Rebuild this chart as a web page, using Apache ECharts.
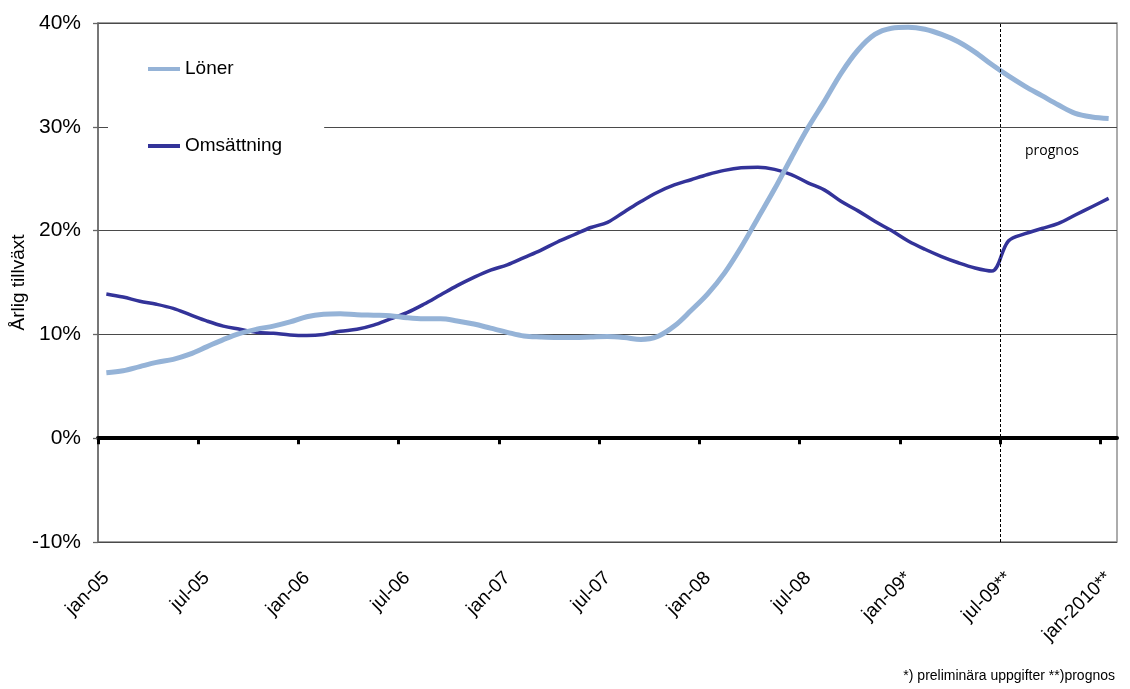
<!DOCTYPE html>
<html><head><meta charset="utf-8">
<script src="https://cdn.jsdelivr.net/npm/echarts@6/dist/echarts.min.js"></script>
<style>html,body{margin:0;padding:0;background:#fff}#c{width:1130px;height:689px}</style>
</head><body><div id="c"></div>
<script>
const monthNames = ['jan','feb','mar','apr','maj','jun','jul','aug','sep','okt','nov','dec'];
const yearNames = ['05','06','07','08','09'];
const tickLabels = ['jan-05','jul-05','jan-06','jul-06','jan-07','jul-07','jan-08','jul-08','jan-09*','jul-09**','jan-2010**'];
const yTicks = [-10, 0, 10, 20, 30, 40];

const loner = [
  6.3, 6.5, 6.9, 7.3, 7.6, 8.1, 8.8, 9.5, 10.1, 10.5, 10.8, 11.2,
  11.7, 11.95, 12.0, 11.9, 11.85, 11.8, 11.6, 11.5, 11.5, 11.3, 11.0, 10.6,
  10.2, 9.85, 9.75, 9.7, 9.7, 9.75, 9.8, 9.7, 9.5, 9.8, 10.8, 12.3,
  13.9, 15.9, 18.4, 21.2, 24.0, 27.0, 29.9, 32.5, 35.2, 37.4, 38.9, 39.5,
  39.6, 39.4, 38.9, 38.2, 37.2, 36.0, 34.9, 33.9, 33.0, 32.1, 31.3, 30.95,
  30.8
];
const omsattning = [
  13.9, 13.6, 13.2, 12.9, 12.5, 11.9, 11.3, 10.8, 10.5, 10.2, 10.1, 9.95,
  9.9, 10.0, 10.3, 10.5, 10.9, 11.5, 12.1, 12.9, 13.8, 14.7, 15.5, 16.2,
  16.7, 17.4, 18.1, 18.9, 19.6, 20.3, 20.8, 21.8, 22.8, 23.7, 24.4, 24.9,
  25.4, 25.8, 26.05, 26.1, 25.9, 25.4, 24.6, 23.9, 22.8, 21.9, 20.9, 20.0,
  19.0, 18.2, 17.5, 16.9, 16.4, 16.1, 19.0, 19.7, 20.2, 20.7, 21.5, 22.3,
  23.1
];
const prognosStart = 54; // boundary before jul-09

const categories = [];
yearNames.forEach(y => monthNames.forEach(m => categories.push(m + '-' + y)));
categories.push('jan-2010');
tickLabels.forEach((t, i) => { categories[i * 6] = t; });
const tickBoundaries = tickLabels.map((t, i) => i * 6);

const FONT = '"Liberation Sans", Arial, sans-serif';
const chart = echarts.init(document.getElementById('c'));
chart.setOption({
  animation: false,
  backgroundColor: '#fff',
  grid: { left: 98, right: 13, top: 23, bottom: 147, show: true, borderColor: '#808080', borderWidth: 1.3, containLabel: false, outerBoundsMode: 'none' },
  legend: {
    data: ['Löner', 'Omsättning'],
    orient: 'vertical',
    left: 108, top: 50,
    padding: [9, 42, 20, 40],
    itemGap: 57,
    itemWidth: 32, itemHeight: 14,
    backgroundColor: '#fff',
    textStyle: { fontSize: 19, fontFamily: FONT, color: '#000', lineHeight: 20 },
    icon: 'path://M0,0 L32,0 L32,4 L0,4 Z'
  },
  xAxis: [
    {
      type: 'category', data: categories, boundaryGap: true, position: 'bottom',
      axisLine: { show: false, onZero: false },
      axisTick: { show: false },
      axisLabel: { show: true, interval: 5, rotate: 45, margin: 33, fontSize: 19, fontFamily: FONT, color: '#000' },
      splitLine: { show: false }
    },
    {
      type: 'value', min: 0, max: categories.length, position: 'bottom',
      axisLine: { show: true, onZero: true, lineStyle: { color: '#000', width: 4 } },
      axisTick: { show: true, customValues: tickBoundaries, length: 6, lineStyle: { color: '#000', width: 3 } },
      axisLabel: { show: false },
      splitLine: { show: false }
    }
  ],
  yAxis: {
    type: 'value', min: yTicks[0], max: yTicks[yTicks.length - 1], interval: 10,
    name: 'Årlig tillväxt', nameLocation: 'middle', nameGap: 70, nameMoveOverlap: false,
    nameTextStyle: { fontSize: 19, fontFamily: FONT, color: '#000' },
    axisLine: { show: true, onZero: false, lineStyle: { color: '#666', width: 1.5 } },
    axisTick: { show: true, length: 5, lineStyle: { color: '#666', width: 1.3 } },
    axisLabel: { formatter: '{value}%', fontSize: 21, fontFamily: FONT, color: '#000', margin: 17 },
    splitLine: { show: true, lineStyle: { color: '#4a4a4a', width: 1.2 } }
  },
  series: [
    {
      name: 'Omsättning', type: 'line', data: omsattning, smooth: 0.35, symbol: 'none',
      lineStyle: { width: 3.5, color: '#333399' }, itemStyle: { color: '#333399' }, z: 3
    },
    {
      name: 'Löner', type: 'line', data: loner, smooth: 0.35, symbol: 'none',
      lineStyle: { width: 5, color: '#95B3D7' }, itemStyle: { color: '#95B3D7' }, z: 4
    },
    {
      name: 'prognosLine', type: 'line', xAxisIndex: 1, data: [], silent: true,
      markLine: {
        silent: true, symbol: ['none', 'none'], label: { show: false },
        lineStyle: { color: '#000', type: [3, 2], width: 1 },
        data: [{ xAxis: prognosStart }]
      }
    }
  ],
  graphic: [
    { type: 'text', left: 1025, top: 144, style: { text: 'prognos', font: '14px "Open Sans", sans-serif', fill: '#000' } },
    { type: 'text', right: 15, top: 669, style: { text: '*) preliminära uppgifter **)prognos', font: '14px "Liberation Sans", Arial, sans-serif', fill: '#000' } }
  ]
});
</script></body></html>
